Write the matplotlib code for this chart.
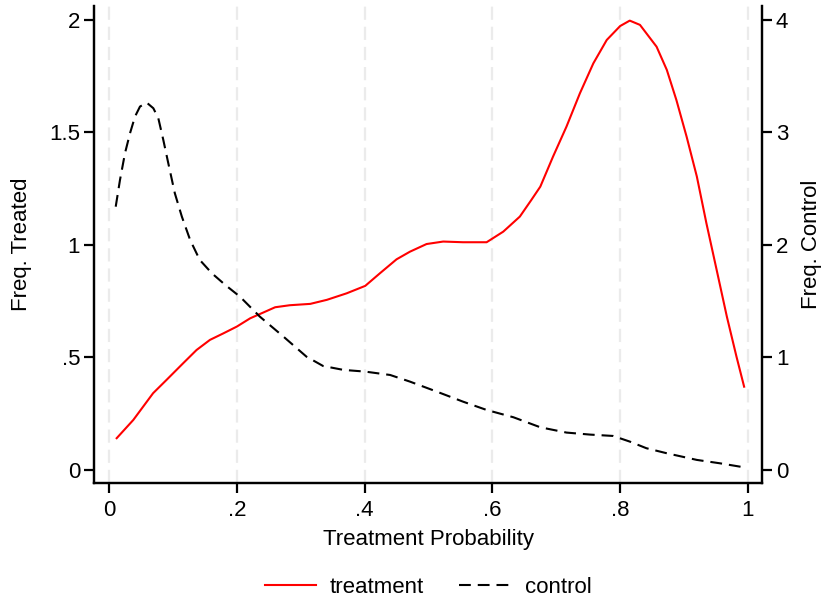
import matplotlib
matplotlib.use("Agg")
import matplotlib.pyplot as plt

# treated density (left axis)
treat_x = [0.012, 0.038, 0.069, 0.090, 0.116, 0.137, 0.158, 0.179, 0.200, 0.221,
           0.241, 0.260, 0.283, 0.315, 0.341, 0.372, 0.401, 0.424, 0.450, 0.471,
           0.497, 0.523, 0.554, 0.591, 0.617, 0.643, 0.661, 0.675, 0.695, 0.716,
           0.737, 0.758, 0.779, 0.800, 0.815, 0.831, 0.857, 0.873, 0.888, 0.904,
           0.920, 0.935, 0.951, 0.967, 0.982, 0.994]
treat_y = [0.141, 0.222, 0.341, 0.400, 0.474, 0.533, 0.578, 0.607, 0.637, 0.674,
           0.699, 0.723, 0.732, 0.738, 0.756, 0.785, 0.818, 0.874, 0.936, 0.970,
           1.004, 1.015, 1.012, 1.012, 1.059, 1.126, 1.200, 1.259, 1.393, 1.526,
           1.674, 1.807, 1.911, 1.973, 1.997, 1.978, 1.881, 1.778, 1.644, 1.481,
           1.304, 1.096, 0.889, 0.681, 0.504, 0.370]

# control density (right axis)
ctrl_x = [0.0105, 0.0172, 0.025, 0.0329, 0.0407, 0.0485, 0.059, 0.0694, 0.0772,
          0.085, 0.0928, 0.103, 0.114, 0.127, 0.142, 0.161, 0.182, 0.205, 0.236,
          0.273, 0.309, 0.335, 0.367, 0.401, 0.440, 0.471, 0.513, 0.554, 0.591,
          0.633, 0.675, 0.716, 0.753, 0.789, 0.815, 0.841, 0.873, 0.920, 0.956,
          0.993]
ctrl_y = [2.34, 2.578, 2.815, 2.993, 3.141, 3.23, 3.265, 3.215, 3.126,
          2.933, 2.726, 2.46, 2.252, 2.044, 1.867, 1.748, 1.644, 1.54, 1.363,
          1.185, 1.007, 0.924, 0.889, 0.874, 0.844, 0.785, 0.696, 0.607, 0.533,
          0.468, 0.379, 0.332, 0.314, 0.302, 0.252, 0.193, 0.148, 0.089, 0.059,
          0.024]

x_ticks = [0, 0.2, 0.4, 0.6, 0.8, 1]
x_labels = ["0", ".2", ".4", ".6", ".8", "1"]
left_ticks = [0, 0.5, 1, 1.5, 2]
left_labels = ["0", ".5", "1", "1.5", "2"]
right_ticks = [0, 1, 2, 3, 4]

plt.rcParams["font.family"] = ["Liberation Sans", "DejaVu Sans"]
plt.rcParams["lines.scale_dashes"] = False

fig = plt.figure(figsize=(8.23, 5.99), dpi=100)
ax = fig.add_axes([0.1142, 0.1937, 0.8117, 0.7963])
ax2 = ax.twinx()

for xv in x_ticks:
    ax.axvline(xv, color="#ebebeb", lw=1.6, ls=(0, (9.5, 5)), zorder=0)

l1, = ax.plot(treat_x, treat_y, color="#ff0000", lw=1.5, label="treatment")
l2, = ax2.plot(ctrl_x, ctrl_y, color="black", lw=1.5, ls=(0, (8.5, 5)), label="control")

ax.set_xlim(-0.0235, 1.022)
ax.set_ylim(-0.058, 2.062)
ax2.set_ylim(-0.116, 4.124)

ax.set_xticks(x_ticks, x_labels)
ax.set_yticks(left_ticks, left_labels)
ax2.set_yticks(right_ticks, [str(t) for t in right_ticks])

for a in (ax, ax2):
    a.spines["top"].set_visible(False)
    for s in ("left", "right", "bottom"):
        a.spines[s].set_linewidth(1.6)
    a.tick_params(labelsize=16, width=1.6, length=7, pad=3)
ax.tick_params(axis="x", pad=5)

ax.set_xlabel("Treatment Probability", fontsize=16, labelpad=6)
ax.set_ylabel("Freq. Treated", fontsize=16, labelpad=12)
ax2.set_ylabel("Freq. Control", fontsize=16, labelpad=9)

fig.legend([l1, l2], ["treatment", "control"], loc="center", bbox_to_anchor=(0.52, 0.019),
           ncol=2, frameon=False, fontsize=16, handlelength=2.3, handletextpad=0.63,
           columnspacing=1.6)

fig.savefig("out.png", dpi=100)
